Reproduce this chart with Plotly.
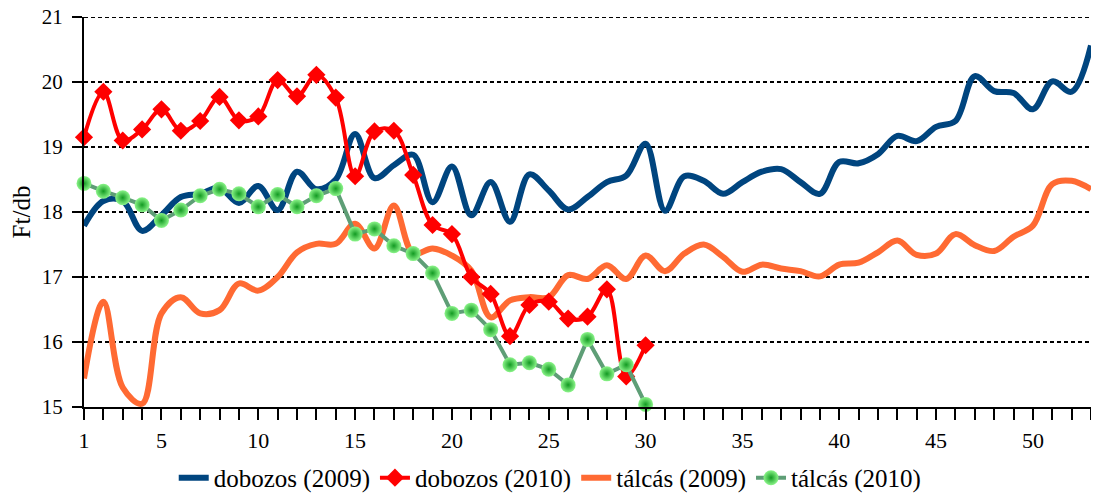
import plotly.graph_objects as go

weeks = list(range(1, 54))
x_tick_labels = [1, 5, 10, 15, 20, 25, 30, 35, 40, 45, 50]
y_range = [15, 21]

dobozos_2009 = [17.79, 18.17, 18.17, 17.71, 17.95, 18.23, 18.28, 18.37, 18.14, 18.40,
                18.03, 18.62, 18.35, 18.50, 19.20, 18.52, 18.72, 18.88, 18.15, 18.70,
                17.95, 18.46, 17.85, 18.58, 18.33, 18.04, 18.23, 18.46, 18.56, 19.05,
                18.02, 18.55, 18.48, 18.28, 18.46, 18.62, 18.66, 18.46, 18.28, 18.77,
                18.75, 18.89, 19.17, 19.09, 19.31, 19.40, 20.09, 19.86, 19.83, 19.58,
                20.01, 19.85, 20.56]

dobozos_2010 = [19.15, 19.85, 19.10, 19.27, 19.58, 19.25, 19.40, 19.77, 19.41, 19.47,
                20.03, 19.78, 20.11, 19.76, 18.55, 19.24, 19.25, 18.57, 17.80, 17.66,
                17.00, 16.74, 16.09, 16.57, 16.62, 16.36, 16.39, 16.81, 15.47, 15.95]

talcas_2009 = [15.44, 16.62, 15.30, 15.05, 16.44, 16.69, 16.44, 16.49, 16.90, 16.79,
               17.00, 17.38, 17.51, 17.51, 17.82, 17.44, 18.10, 17.36, 17.44, 17.33,
               17.10, 16.38, 16.64, 16.69, 16.69, 17.03, 16.97, 17.18, 16.97, 17.33,
               17.09, 17.36, 17.50, 17.31, 17.08, 17.19, 17.13, 17.09, 17.01, 17.19,
               17.22, 17.38, 17.56, 17.34, 17.36, 17.66, 17.49, 17.40, 17.62, 17.79,
               18.43, 18.48, 18.35]

talcas_2010 = [18.44, 18.32, 18.22, 18.11, 17.87, 18.03, 18.25, 18.35, 18.28, 18.08,
               18.27, 18.08, 18.25, 18.36, 17.66, 17.74, 17.48, 17.36, 17.06, 16.44,
               16.49, 16.19, 15.65, 15.68, 15.58, 15.34, 16.04, 15.51, 15.65, 15.04]

series_names = ["dobozos (2009)", "dobozos (2010)", "tálcás (2009)", "tálcás (2010)"]

BLUE = "#00457F"
RED = "#FF0000"
ORANGE = "#FF6A33"
GREEN_LINE = "#5E9E76"
FONT = "Liberation Serif"
GRID_DASH = "4px,3px"

fig = go.Figure()

fig.add_trace(go.Scatter(
    x=weeks[:len(dobozos_2009)], y=dobozos_2009, name=series_names[0], mode="lines",
    line=dict(color=BLUE, width=6, shape="spline", smoothing=1.0), legendrank=1))

fig.add_trace(go.Scatter(
    x=weeks[:len(talcas_2009)], y=talcas_2009, name=series_names[2], mode="lines",
    line=dict(color=ORANGE, width=6, shape="spline", smoothing=1.0), legendrank=3))

fig.add_trace(go.Scatter(
    x=weeks[:len(dobozos_2010)], y=dobozos_2010, name=series_names[1], mode="lines+markers",
    line=dict(color=RED, width=4, shape="spline", smoothing=1.0),
    marker=dict(symbol="diamond", size=14, color=RED, line=dict(width=0)),
    cliponaxis=False, legendrank=2))

fig.add_trace(go.Scatter(
    x=weeks[:len(talcas_2010)], y=talcas_2010, name=series_names[3], mode="lines+markers",
    line=dict(color=GREEN_LINE, width=4),
    marker=dict(symbol="circle", size=15, color="#8CF58A",
                gradient=dict(type="radial", color="#129A22"),
                line=dict(width=0)),
    cliponaxis=False, legendrank=4))

# top gridline (plotly drops the grid line lying on the upper plot edge)
fig.add_shape(type="line", xref="paper", yref="y", x0=0, x1=1,
              y0=y_range[1], y1=y_range[1], layer="below",
              line=dict(color="black", width=2, dash=GRID_DASH))

# The page body adds an 8px offset; the figure is sized to fit the window.
fig.update_layout(
    width=1091, height=487,
    margin=dict(l=76, r=8, t=9, b=88),
    plot_bgcolor="white", paper_bgcolor="white",
    font=dict(family=FONT, size=22, color="black"),
    showlegend=True,
    legend=dict(orientation="h", xref="container", yref="container",
                x=0.497, xanchor="center", y=0.035, yanchor="middle",
                font=dict(family=FONT, size=25), itemwidth=30, tracegroupgap=0,
                bgcolor="rgba(0,0,0,0)"),
)

fig.update_xaxes(
    range=[1, 53], tickmode="array", tickvals=weeks,
    ticktext=[str(w) if w in x_tick_labels else "" for w in weeks],
    ticks="outside", ticklen=11, tickwidth=2, tickcolor="black",
    showline=True, linecolor="black", linewidth=2,
    showgrid=False, zeroline=False, ticklabelstandoff=2, automargin=False,
    ticklabeloverflow="allow", tickfont=dict(size=22),
)

fig.update_yaxes(
    range=y_range, tickmode="linear", tick0=15, dtick=1,
    ticks="outside", ticklen=10, tickwidth=2, tickcolor="black",
    showline=True, linecolor="black", linewidth=2,
    showgrid=True, gridcolor="black", gridwidth=2, griddash=GRID_DASH,
    zeroline=False, ticklabelstandoff=5, automargin=False,
    ticklabeloverflow="allow", tickfont=dict(size=21),
    title=dict(text="Ft/db", font=dict(size=25), standoff=8),
)

fig.write_html("out.html")
